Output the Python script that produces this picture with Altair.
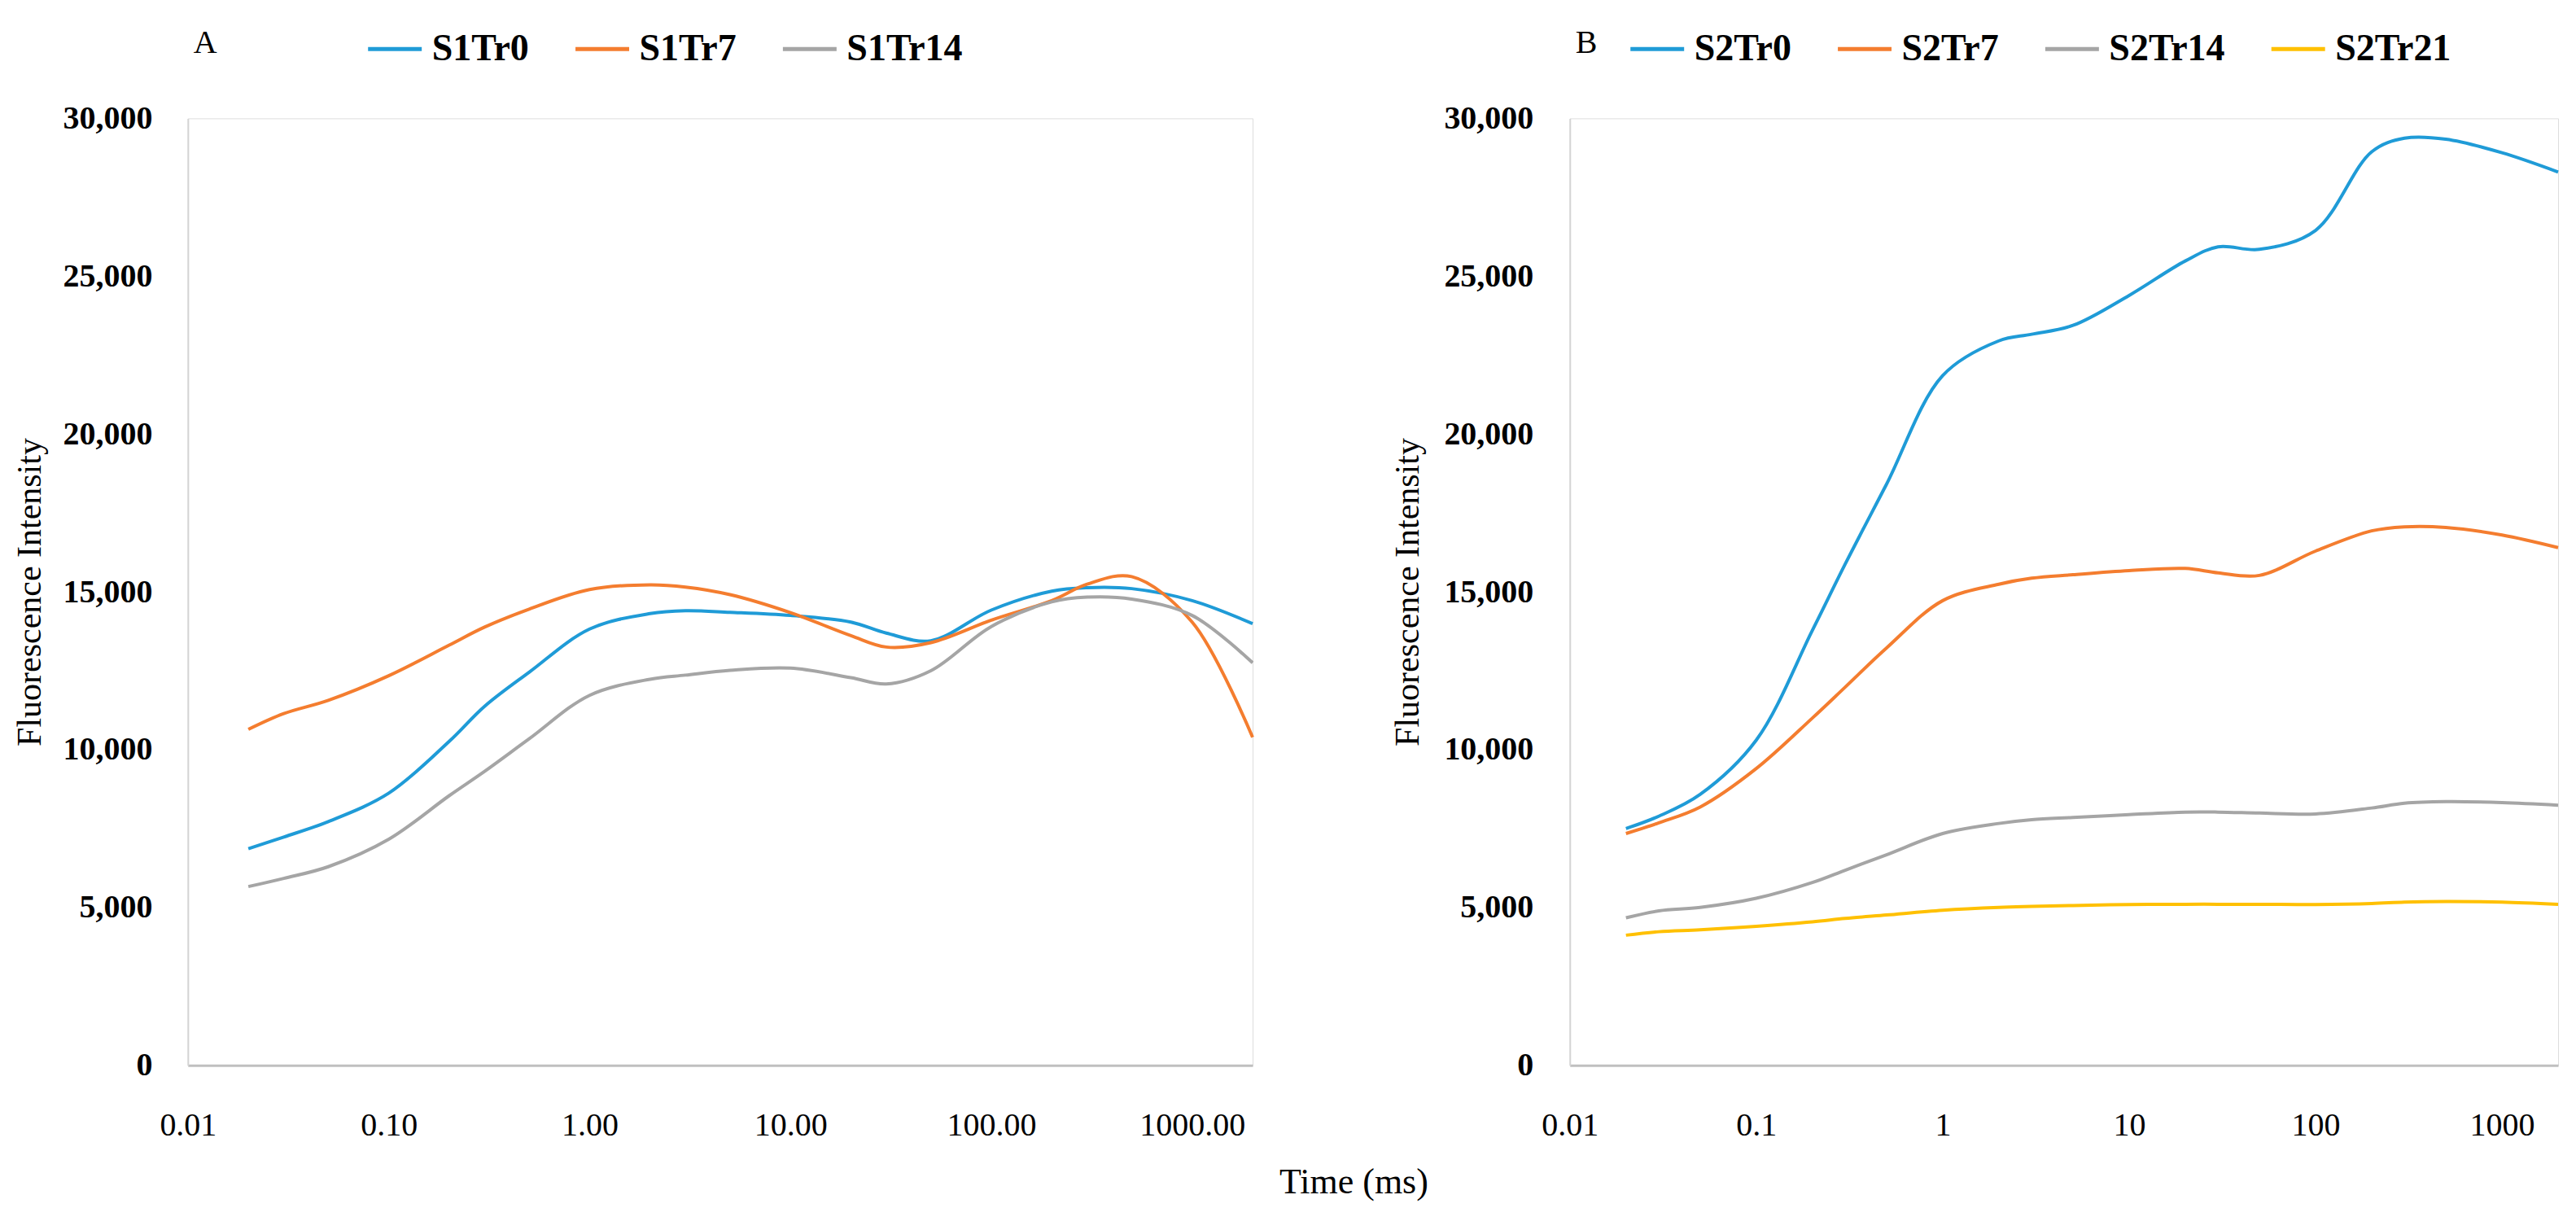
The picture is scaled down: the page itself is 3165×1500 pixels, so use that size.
import altair as alt
import pandas as pd

# ---- data ----
times = [0.02, 0.03, 0.05, 0.1, 0.2, 0.3, 0.5, 1, 2, 3, 5, 10, 20, 30, 50, 100, 200, 300, 500, 1000, 2000]

series_a = ["S1Tr0", "S1Tr7", "S1Tr14"]
s1tr0 = [6860, 7230, 7720, 8620, 10260, 11370, 12450, 13820, 14310, 14400, 14350, 14250, 14040, 13690, 13450, 14420, 15020, 15130, 15100, 14720, 13990]
s1tr7 = [10640, 11140, 11560, 12340, 13310, 13880, 14450, 15070, 15220, 15150, 14910, 14340, 13610, 13250, 13390, 14100, 14720, 15240, 15480, 14040, 10390]
s1tr14 = [5660, 5920, 6290, 7160, 8540, 9310, 10340, 11720, 12230, 12360, 12510, 12580, 12280, 12080, 12500, 13900, 14680, 14830, 14770, 14250, 12750]

series_b = ["S2Tr0", "S2Tr7", "S2Tr14", "S2Tr21"]
s2tr0 = [7500, 7890, 8580, 10300, 13780, 15880, 18410, 21850, 22950, 23160, 23440, 24390, 25480, 25930, 25850, 26450, 28940, 29370, 29340, 28910, 28300]
s2tr7 = [7340, 7680, 8180, 9400, 11000, 11980, 13220, 14720, 15240, 15430, 15540, 15670, 15740, 15600, 15520, 16290, 16930, 17060, 17040, 16800, 16400]
s2tr14 = [4670, 4890, 5000, 5290, 5790, 6180, 6670, 7340, 7660, 7780, 7850, 7940, 8020, 8020, 7990, 7960, 8150, 8300, 8350, 8320, 8240]
s2tr21 = [4120, 4230, 4290, 4400, 4540, 4650, 4760, 4910, 5000, 5030, 5060, 5090, 5100, 5100, 5100, 5090, 5120, 5170, 5190, 5170, 5100]

x_ticks = [0.01, 0.1, 1, 10, 100, 1000]
y_ticks = [0, 5000, 10000, 15000, 20000, 25000, 30000]

colors_a = ["#1F9BD7", "#F47D2F", "#A5A5A5"]
colors_b = ["#1F9BD7", "#F47D2F", "#A5A5A5", "#FFC000"]


def long_table(names, columns):
    rows = []
    for name, vals in zip(names, columns):
        for t, v in zip(times, vals):
            rows.append({"t": t, "v": v, "series": name})
    return pd.DataFrame(rows)


df_a = long_table(series_a, [s1tr0, s1tr7, s1tr14])
df_b = long_table(series_b, [s2tr0, s2tr7, s2tr14, s2tr21])

FONT = "Liberation Serif"


def panel(df, names, colors, letter, fmt, width, legend_cols, label_pad, title_pad, letter_gap):
    x = alt.X(
        "t:Q",
        scale=alt.Scale(type="log", domain=[0.01, 2000], nice=False),
        axis=alt.Axis(
            values=x_ticks, format=fmt, title=None, grid=False, ticks=False,
            labelFlush=False, labelOverlap=False,
            labelFont=FONT, labelFontSize=40, labelColor="black", labelPadding=54,
            domainColor="#bfbfbf", domainWidth=3,
        ),
    )
    y = alt.Y(
        "v:Q",
        scale=alt.Scale(domain=[0, 30000], nice=False),
        axis=alt.Axis(
            values=y_ticks, format=",.0f", grid=False, ticks=False,
            labelFont=FONT, labelFontSize=40, labelFontWeight="bold", labelColor="black",
            labelPadding=label_pad,
            title="Fluorescence Intensity", titleFont=FONT, titleFontSize=42,
            titleFontWeight="normal", titleColor="black", titlePadding=title_pad,
            domainColor="#d4d4d4", domainWidth=2,
        ),
    )
    color = alt.Color(
        "series:N",
        scale=alt.Scale(domain=names, range=colors),
        legend=alt.Legend(
            orient="none", legendX=7, legendY=-121,
            direction="horizontal", columns=legend_cols,
            title=letter, titleOrient="left", titleFont=FONT, titleFontSize=40,
            titleFontWeight="normal", titleColor="black", titleBaseline="middle",
            titlePadding=letter_gap,
            symbolType="stroke", symbolSize=66 * 66, symbolStrokeWidth=5,
            labelFont=FONT, labelFontSize=46, labelFontWeight="bold", labelColor="black",
            labelOffset=10, columnPadding=46, padding=0, labelLimit=400,
        ),
    )
    return (
        alt.Chart(df)
        .mark_line(interpolate="catmull-rom", strokeWidth=4)
        .encode(x=x, y=y, color=color, order=alt.Order("t:Q"))
        .properties(width=width, height=1164)
    )


chart_a = panel(df_a, series_a, colors_a, "A", ".2f", 1309, 3, 44, 18, 183)
chart_b = panel(df_b, series_b, colors_b, "B", "~f", 1215, 4, 45, 22, 38)

chart = (
    alt.hconcat(chart_a, chart_b, spacing=160)
    .resolve_scale(color="independent", x="independent", y="independent")
    .resolve_legend(color="independent")
    .properties(
        padding={"left": 7, "top": 15, "right": 5, "bottom": 5},
        title=alt.TitleParams(
            text="Time (ms)", orient="bottom", anchor="middle", dx=80, offset=28,
            font=FONT, fontSize=44, fontWeight="normal", color="black",
        ),
    )
    .configure_view(stroke=None)
    .configure(background="white")
)

chart.save("out.html", embed_options={"renderer": "svg", "actions": False})
